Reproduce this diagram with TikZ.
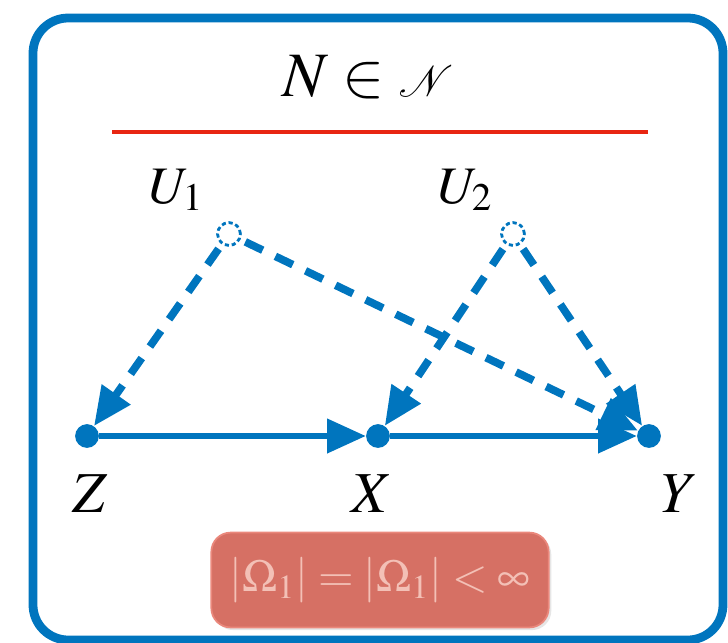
\documentclass[tikz,border=0pt]{standalone}
\usepackage{amsmath,amssymb}
\usepackage{mathptmx}
\usepackage{mathrsfs}
\usetikzlibrary{arrows.meta,shadows}

\definecolor{frameblue}{RGB}{0,117,190}
\definecolor{linered}{RGB}{232,38,18}
\definecolor{boxred}{RGB}{214,112,100}
\definecolor{boxedge}{RGB}{234,136,124}
\definecolor{boxtext}{RGB}{243,192,182}

\begin{document}
\begin{tikzpicture}[x=0.02cm, y=-0.02cm,
	every node/.style={font=\fontsize{33}{38}\selectfont},
	>={Triangle[length=22pt, width=19pt]},
	dot/.style={circle, fill=frameblue, inner sep=0pt, minimum size=13.5pt},
	latent/.style={circle, draw=frameblue, fill=white, dash pattern=on 2.4pt off 1.6pt, line width=1.6pt, inner sep=0pt, minimum size=13pt},
	cause/.style={->, frameblue, line width=3.4pt},
	hidden/.style={->, frameblue, line width=4.4pt, dash pattern=on 11pt off 8pt, shorten <=3pt},
	bound/.style={fill=boxred, draw=boxedge, line width=1pt, rounded corners=11pt, minimum width=192pt, minimum height=54pt, text=boxtext, font=\fontsize{26}{30}\selectfont, drop shadow={opacity=0.2, shadow xshift=1.5pt, shadow yshift=-1.5pt}}]
	\useasboundingbox (0,0) rectangle (728,643);
	\draw[frameblue, line width=5pt, rounded corners=20pt] (33,18) rectangle (723,640);
	\node[anchor=base, font=\fontsize{36}{40}\selectfont] (title) at (368,96) {$N\in\mathscr{N}$};
	\draw[linered, line width=2.8pt] (112,132) -- (648,132);
	\node[latent] (U1) at (229,234) {};
	\node[latent] (U2) at (513,234) {};
	\node[anchor=base, font=\fontsize{30}{34}\selectfont] (u1lab) at (176,203) {$U_1$};
	\node[anchor=base, font=\fontsize{30}{34}\selectfont] (u2lab) at (465,203) {$U_2$};
	\node[dot] (Z) at (87,436) {};
	\node[dot] (X) at (378,436) {};
	\node[dot] (Y) at (649,436) {};
	\node[anchor=base] (zlab) at (90,512) {$Z$};
	\node[anchor=base] (xlab) at (372,512) {$X$};
	\node[anchor=base] (ylab) at (680,512) {$Y$};
	\draw[cause] (Z) -- (X);
	\draw[cause] (X) -- (Y);
	\draw[hidden] (U1) -- (Z);
	\draw[hidden] (U1) -- (Y);
	\draw[hidden] (U2) -- (X);
	\draw[hidden] (U2) -- (Y);
	\node[bound] (card) at (380,580) {$|\Omega_1| = |\Omega_1| < \infty$};
\end{tikzpicture}
\end{document}
